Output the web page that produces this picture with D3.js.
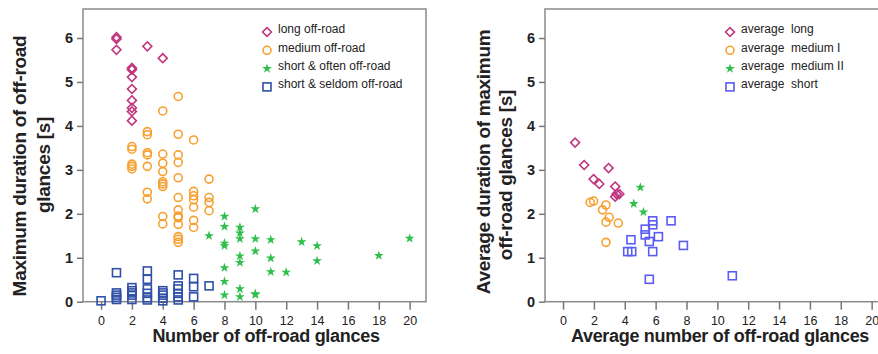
<!DOCTYPE html>
<html>
<head>
<meta charset="utf-8">
<script src="https://cdn.jsdelivr.net/npm/d3@7"></script>
<style>
  body { margin: 0; background: #fff; }
  svg { display: block; font-family: "Liberation Sans", Arial, sans-serif; }
</style>
</head>
<body>
<div id="chart"></div>
<script>
// ---- data (x = number of glances, y = duration [s]) ----
const xTicks = [0, 2, 4, 6, 8, 10, 12, 14, 16, 18, 20];
const yTicks = [0, 1, 2, 3, 4, 5, 6];

const longOffRoad = [[1, 6.02], [1, 5.98], [1, 5.73], [3, 5.81], [4, 5.54], [2, 5.32], [2, 5.28], [2, 5.11],
  [2, 4.84], [2, 4.58], [2, 4.41], [2, 4.33], [2, 4.12]];
const mediumOffRoad = [[2, 3.53], [2, 3.47], [2, 3.13], [2, 3.08], [2, 3.02],
  [3, 3.87], [3, 3.8], [3, 3.39], [3, 3.34], [3, 3.08], [3, 2.49], [3, 2.34],
  [4, 4.34], [4, 3.36], [4, 3.15], [4, 2.96], [4, 2.73], [4, 2.68], [4, 2.62], [4, 1.94], [4, 1.77],
  [5, 4.67], [5, 3.81], [5, 3.34], [5, 3.17], [5, 2.82], [5, 2.37], [5, 2.09], [5, 1.95], [5, 1.91], [5, 1.76], [5, 1.48], [5, 1.42], [5, 1.35],
  [6, 3.68], [6, 2.51], [6, 2.41], [6, 2.32], [6, 2.15], [6, 1.85], [6, 1.69],
  [7, 2.79], [7, 2.37], [7, 2.26], [7, 2.07]];
const shortOftenOffRoad = [[7, 1.5],
  [8, 1.94], [8, 1.71], [8, 1.33], [8, 1.27], [8, 0.77], [8, 0.46], [8, 0.15],
  [9, 1.69], [9, 1.56], [9, 1.43], [9, 1.04], [9, 0.89], [9, 0.29], [9, 0.11],
  [10, 2.11], [10, 1.43], [10, 1.15], [10, 0.18], [10, 0.16],
  [11, 1.41], [11, 0.99], [11, 0.68], [12, 0.67], [13, 1.36], [14, 1.27], [14, 0.93], [18, 1.05], [20, 1.44]];
const shortSeldomOffRoad = [[0, 0.02],
  [1, 0.66], [1, 0.2], [1, 0.15], [1, 0.1], [1, 0.05],
  [2, 0.32], [2, 0.25], [2, 0.2], [2, 0.15], [2, 0.05],
  [3, 0.7], [3, 0.51], [3, 0.29], [3, 0.19], [3, 0.09], [3, 0.04],
  [4, 0.25], [4, 0.2], [4, 0.15], [4, 0.08], [4, 0.02],
  [5, 0.61], [5, 0.36], [5, 0.29], [5, 0.19], [5, 0.11], [5, 0.04],
  [6, 0.53], [6, 0.34], [6, 0.11], [7, 0.36]];

const averageLong = [[0.78, 3.62], [1.37, 3.11], [1.98, 2.79], [2.35, 2.68], [2.95, 3.04],
  [3.38, 2.62], [3.47, 2.45], [3.65, 2.45], [3.38, 2.39]];
const averageMedium1 = [[1.76, 2.26], [1.98, 2.29], [2.56, 2.09], [2.78, 2.2], [2.99, 1.92],
  [2.78, 1.81], [3.58, 1.79], [2.78, 1.35]];
const averageMedium2 = [[5.01, 2.6], [4.58, 2.23], [5.21, 2.04]];
const averageShort = [[4.4, 1.41], [4.19, 1.14], [4.45, 1.14], [5.33, 1.65], [5.33, 1.52], [5.59, 1.37],
  [5.81, 1.84], [5.81, 1.75], [5.81, 1.14], [6.18, 1.48], [7.0, 1.84], [7.8, 1.28], [5.59, 0.51], [10.97, 0.59]];

const leftSeries = [
  { name: 'long off-road', data: longOffRoad, shape: 'diamond', color: '#c2357f' },
  { name: 'medium off-road', data: mediumOffRoad, shape: 'circle', color: '#f6a030' },
  { name: 'short & often off-road', data: shortOftenOffRoad, shape: 'star', color: '#2fbf4c' },
  { name: 'short & seldom off-road', data: shortSeldomOffRoad, shape: 'square', color: '#3050a8' }
];
const rightSeries = [
  { name: 'average  long', data: averageLong, shape: 'diamond', color: '#c2357f' },
  { name: 'average  medium I', data: averageMedium1, shape: 'circle', color: '#f6a030' },
  { name: 'average  medium II', data: averageMedium2, shape: 'star', color: '#2fbf4c' },
  { name: 'average  short', data: averageShort, shape: 'square', color: '#5a5cf2' }
];

const W = 878, H = 354;
const svg = d3.select('#chart').append('svg').attr('width', W).attr('height', H);

function marker(g, shape, color) {
  if (shape === 'diamond') {
    g.append('path').attr('d', d3.symbol(d3.symbolSquare, 40)()).attr('transform', 'rotate(45)')
      .attr('fill', 'none').attr('stroke', color).attr('stroke-width', 1.6);
  } else if (shape === 'circle') {
    g.append('circle').attr('r', 4).attr('fill', 'none').attr('stroke', color).attr('stroke-width', 1.6);
  } else if (shape === 'star') {
    g.append('path').attr('d', d3.symbol(d3.symbolStar, 30)()).attr('fill', color);
  } else {
    g.append('rect').attr('x', -4).attr('y', -4).attr('width', 8).attr('height', 8)
      .attr('fill', 'none').attr('stroke', color).attr('stroke-width', 1.6);
  }
}

function panel(left, series, yTitle, xTitle, legendX, titleX) {
  const top = 9, bottom = 301.7, width = 343;
  const x = d3.scaleLinear().domain([-1.17, 21.06]).range([left, left + width]);
  const y = d3.scaleLinear().domain([0, 6.66]).range([bottom, top]);
  const g = svg.append('g');

  // frame
  g.append('rect').attr('x', left).attr('y', top).attr('width', width).attr('height', bottom - top)
    .attr('fill', 'none').attr('stroke', '#8a8a8a').attr('stroke-width', 1.5);

  // axes
  const xa = g.append('g').attr('transform', `translate(0,${bottom})`)
    .call(d3.axisBottom(x).tickValues(xTicks).tickFormat(d3.format('d')).tickSize(8).tickSizeOuter(0));
  xa.select('.domain').remove();
  xa.selectAll('line').attr('stroke', '#777').attr('stroke-width', 1.5);
  xa.selectAll('text').attr('font-size', 12.5).attr('fill', '#222').attr('dy', '0.95em');

  const ya = g.append('g').attr('transform', `translate(${left},0)`)
    .call(d3.axisLeft(y).tickValues(yTicks).tickFormat(d3.format('d')).tickSize(6).tickSizeOuter(0));
  ya.select('.domain').remove();
  ya.selectAll('line').attr('stroke', '#777').attr('stroke-width', 1.5);
  ya.selectAll('text').attr('font-size', 14.5).attr('font-weight', 'bold').attr('fill', '#222').attr('x', -10);

  // points
  series.forEach(s => {
    g.append('g').selectAll('g').data(s.data).join('g')
      .attr('transform', d => `translate(${x(d[0])},${y(d[1])})`)
      .each(function () { marker(d3.select(this), s.shape, s.color); });
  });

  // legend
  series.forEach((s, i) => {
    const ly = 32 + i * 18.3;
    marker(g.append('g').attr('transform', `translate(${legendX},${ly})`), s.shape, s.color);
    g.append('text').attr('x', legendX + 11).attr('y', ly - 3).attr('dy', '0.35em')
      .attr('font-size', 12).attr('fill', '#222').style('white-space', 'pre').text(s.name);
  });

  // axis titles
  g.append('text').attr('x', titleX).attr('y', 342).attr('text-anchor', 'middle')
    .attr('font-size', 18).attr('font-weight', 'bold').attr('fill', '#222').attr('letter-spacing', -0.3).text(xTitle);
  yTitle.forEach(t => {
    g.append('text').attr('transform', `translate(${t.x},${t.c}) rotate(-90)`).attr('dy', '0.35em')
      .attr('text-anchor', 'middle').attr('font-size', 19).attr('font-weight', 'bold').attr('fill', '#222')
      .attr('letter-spacing', -0.3).text(t.text);
  });
}

panel(83, leftSeries,
  [{ text: 'Maximum duration of off-road', x: 19, c: 166 }, { text: 'glances [s]', x: 43, c: 165 }],
  'Number of off-road glances', 267, 266);
panel(545, rightSeries,
  [{ text: 'Average duration of maximum', x: 483, c: 162 }, { text: 'off-road glances [s]', x: 505, c: 175 }],
  'Average number of off-road glances', 730, 720);
</script>
</body>
</html>
